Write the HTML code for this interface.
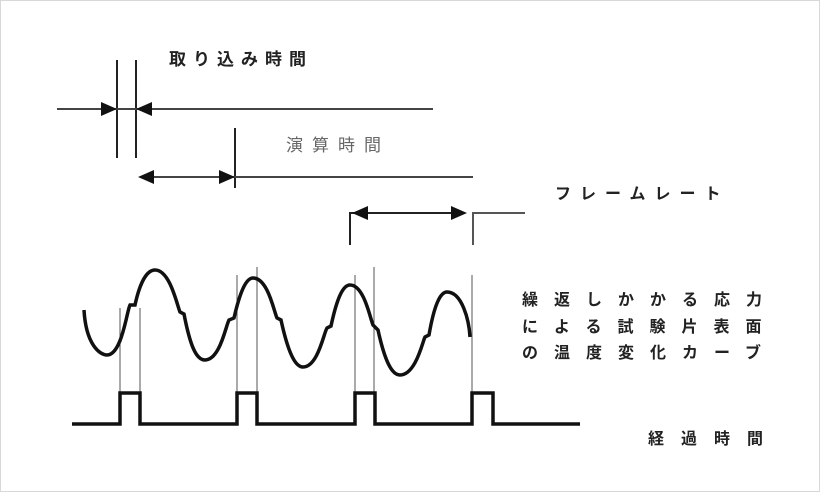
<!DOCTYPE html>
<html><head><meta charset="utf-8"><style>
html,body{margin:0;padding:0;background:#fff;}
svg{display:block;}
text{font-family:"Liberation Sans","Noto Sans CJK JP",sans-serif;font-weight:bold;fill:#222;}
</style></head><body>
<svg width="820" height="492" viewBox="0 0 820 492" xmlns="http://www.w3.org/2000/svg">
<rect x="0.5" y="0.5" width="819" height="491" fill="#fff" stroke="#d8d8d8"/>
<g stroke="#222" fill="none">
<line x1="117" y1="60" x2="117" y2="158" stroke-width="2"/>
<line x1="136" y1="60" x2="136" y2="158" stroke-width="2"/>
<line x1="57" y1="109" x2="433" y2="109" stroke-width="2" stroke="#444"/>
<line x1="235" y1="128" x2="235" y2="188" stroke-width="2"/>
<line x1="140" y1="177" x2="473" y2="177" stroke-width="2" stroke="#444"/>
<polyline points="350,245 350,213 356,213" stroke-width="2"/>
<line x1="356" y1="213" x2="462" y2="213" stroke-width="2"/>
<polyline points="473,245 473,213 525,213" stroke-width="2" stroke="#555"/>
<g stroke-width="1" stroke="#555">
<line x1="120" y1="308" x2="120" y2="393"/><line x1="140" y1="308" x2="140" y2="393"/>
<line x1="237" y1="275" x2="237" y2="393"/><line x1="257" y1="267" x2="257" y2="393"/>
<line x1="355" y1="275" x2="355" y2="393"/><line x1="374" y1="267" x2="374" y2="393"/>
<line x1="472" y1="275" x2="472" y2="393"/>
</g>
<path d="M84,310 C86,345 100,355 107,355 C122,355 127,310 130,305 L135,305 C140,282 147,270 155,270 C170,270 177,305 180,312 L184,314 C190,345 196,360 205,360 C220,360 226,325 229,320 L234,318 C240,292 246,278 253,278 C268,278 274,312 277,318 L281,320 C288,352 295,367 303,367 C318,367 324,332 327,328 L331,326 C337,298 343,285 350,285 C364,285 370,318 373,325 L378,330 C385,362 392,375 400,375 C416,375 423,340 425,337 L429,335 C434,306 440,292 447,292 C462,292 469,320 470,337" stroke-width="3.5" stroke="#111"/>
<polyline points="72,424 120,424 120,393 140,393 140,424 237,424 237,393 257,393 257,424 355,424 355,393 375,393 375,424 472,424 472,393 493,393 493,424 580,424" stroke-width="3.5" stroke="#111"/>
</g>
<g fill="#111">
<polygon points="117,109 101,102 101,116"/>
<polygon points="136,109 152,102 152,116"/>
<polygon points="138,177 154,170 154,184"/>
<polygon points="235,177 219,170 219,184"/>
<polygon points="352,213 368,206 368,220"/>
<polygon points="467,213 451,206 451,220"/>
</g>
<text x="169" y="65" font-size="17" letter-spacing="7">取り込み時間</text>
<text x="286" y="151" font-size="17" letter-spacing="9" style="fill:#666;font-weight:normal">演算時間</text>
<text x="555" y="199" font-size="16" letter-spacing="9">フレームレート</text>
<text x="522" y="305" font-size="16" letter-spacing="16">繰返しかかる応力</text>
<text x="522" y="332" font-size="16" letter-spacing="16">による試験片表面</text>
<text x="522" y="358" font-size="16" letter-spacing="16">の温度変化カーブ</text>
<text x="648" y="444" font-size="16" letter-spacing="17">経過時間</text>
</svg>
</body></html>
